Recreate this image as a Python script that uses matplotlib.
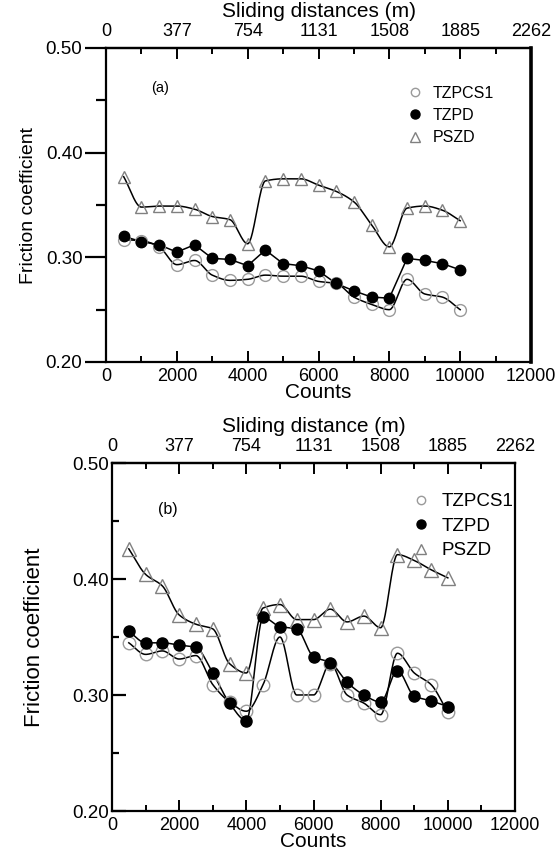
import numpy as np
import matplotlib
matplotlib.use("Agg")
import matplotlib.pyplot as plt
from matplotlib.lines import Line2D
from matplotlib.ticker import MultipleLocator

plt.rcParams['font.family'] = ['Liberation Sans', 'DejaVu Sans']

counts = [500, 1000, 1500, 2000, 2500, 3000, 3500, 4000, 4500, 5000,
          5500, 6000, 6500, 7000, 7500, 8000, 8500, 9000, 9500, 10000]

# Panel (a)
a_tzpcs1 = [0.317, 0.316, 0.310, 0.293, 0.297, 0.283, 0.278, 0.279, 0.283, 0.282,
            0.282, 0.277, 0.275, 0.262, 0.255, 0.250, 0.279, 0.265, 0.262, 0.250]
a_tzpd = [0.320, 0.315, 0.312, 0.305, 0.312, 0.299, 0.298, 0.292, 0.307, 0.294,
          0.292, 0.287, 0.275, 0.268, 0.262, 0.261, 0.299, 0.297, 0.294, 0.288]
a_pszd = [0.377, 0.348, 0.349, 0.349, 0.346, 0.339, 0.336, 0.313, 0.373, 0.375,
          0.375, 0.369, 0.363, 0.353, 0.331, 0.310, 0.347, 0.349, 0.345, 0.335]

# Panel (b)
b_tzpcs1 = [0.345, 0.335, 0.338, 0.331, 0.334, 0.309, 0.294, 0.286, 0.309, 0.350,
            0.300, 0.300, 0.327, 0.300, 0.293, 0.283, 0.336, 0.319, 0.309, 0.285]
b_tzpd = [0.355, 0.345, 0.345, 0.343, 0.341, 0.319, 0.293, 0.278, 0.367, 0.359,
          0.357, 0.333, 0.328, 0.311, 0.300, 0.294, 0.321, 0.299, 0.295, 0.290]
b_pszd = [0.426, 0.404, 0.394, 0.369, 0.361, 0.357, 0.327, 0.319, 0.375, 0.378,
          0.365, 0.365, 0.374, 0.363, 0.368, 0.358, 0.421, 0.416, 0.408, 0.401]

series_names = ["TZPCS1", "TZPD", "PSZD"]
count_ticks = [0, 2000, 4000, 6000, 8000, 10000, 12000]
distance_labels = ["0", "377", "754", "1131", "1508", "1885", "2262"]
y_ticks = [0.20, 0.30, 0.40, 0.50]


def pchip(x, y, n=30):
    x = np.asarray(x, float)
    y = np.asarray(y, float)
    h = np.diff(x)
    dl = np.diff(y) / h
    d = np.zeros_like(y)
    for k in range(1, len(x) - 1):
        if dl[k - 1] * dl[k] <= 0:
            d[k] = 0.0
        else:
            w1 = 2 * h[k] + h[k - 1]
            w2 = h[k] + 2 * h[k - 1]
            d[k] = (w1 + w2) / (w1 / dl[k - 1] + w2 / dl[k])
    d[0] = dl[0]
    d[-1] = dl[-1]
    xs, ys = [], []
    for k in range(len(x) - 1):
        t = np.linspace(0, 1, n, endpoint=(k == len(x) - 2))
        h00 = 2 * t**3 - 3 * t**2 + 1
        h10 = t**3 - 2 * t**2 + t
        h01 = -2 * t**3 + 3 * t**2
        h11 = t**3 - t**2
        xs.append(x[k] + t * h[k])
        ys.append(h00 * y[k] + h10 * h[k] * d[k] + h01 * y[k + 1] + h11 * h[k] * d[k + 1])
    return np.concatenate(xs), np.concatenate(ys)


W, H = 557, 857
fig = plt.figure(figsize=(W / 100, H / 100), dpi=100)

ax_a = fig.add_axes([106 / W, 1 - 362 / H, 425 / W, 314 / H])
ax_b = fig.add_axes([112 / W, 1 - 811 / H, 403 / W, 348 / H])

GRAY = '#9a9a9a'
open_style = dict(marker='o', mfc='none', mec=GRAY, mew=1.0, ls='none')
fill_style = dict(marker='o', mfc='black', mec='black', ls='none')
tri_style = dict(marker='^', mfc='none', mec='#808080', mew=1.0, ls='none')


def draw(ax, s_open, s_fill, s_tri, smooth_fill, msz):
    xo, yo = pchip(counts, s_open)
    ax.plot(xo, yo, color='black', lw=1.1, zorder=2)
    if smooth_fill:
        xf, yf = pchip(counts, s_fill)
    else:
        xf, yf = counts, s_fill
    ax.plot(xf, yf, color='black', lw=1.1, zorder=2)
    xt, yt = pchip(counts, s_tri)
    ax.plot(xt, yt, color='black', lw=1.1, zorder=2)
    ax.plot(counts, s_open, ms=msz + 1, zorder=3, **open_style)
    ax.plot(counts, s_fill, ms=msz, zorder=4, **fill_style)
    ax.plot(counts, s_tri, ms=msz + 1.5, zorder=3, **tri_style)


draw(ax_a, a_tzpcs1, a_tzpd, a_pszd, False, 7.5)
draw(ax_b, b_tzpcs1, b_tzpd, b_pszd, True, 8)


def style(ax, ydir, ylen, top_title, ylabel_size, ylabelpad, top_labelpad):
    ax.set_xlim(0, 12000)
    ax.set_ylim(0.20, 0.50)
    ax.set_xticks(count_ticks)
    ax.xaxis.set_minor_locator(MultipleLocator(1000))
    ax.set_yticks(y_ticks)
    ax.set_yticklabels([f"{v:.2f}" for v in y_ticks])
    ax.yaxis.set_minor_locator(MultipleLocator(0.05))
    ax.tick_params(axis='x', which='major', direction='in', length=8, width=1.4,
                   labelsize=13, pad=4, top=False)
    ax.tick_params(axis='x', which='minor', direction='in', length=4.5, width=1.4, top=False)
    ax.tick_params(axis='y', which='major', direction=ydir, length=ylen, width=1.6,
                   labelsize=13.5, pad=2, right=False)
    ax.tick_params(axis='y', which='minor', direction=ydir, length=ylen * 0.5, width=1.6,
                   right=False)
    for sp in ax.spines.values():
        sp.set_linewidth(1.6)
    ax.set_xlabel("Counts", fontsize=15, labelpad=-1)
    ax.set_ylabel("Friction coefficient", fontsize=ylabel_size, labelpad=ylabelpad)
    sec = ax.secondary_xaxis('top')
    sec.set_xticks(count_ticks)
    sec.set_xticklabels(distance_labels)
    sec.xaxis.set_minor_locator(MultipleLocator(1000))
    sec.tick_params(axis='x', which='major', direction='in', length=8, width=1.4,
                    labelsize=13, pad=6)
    sec.tick_params(axis='x', which='minor', direction='in', length=4.5, width=1.4)
    sec.spines['top'].set_linewidth(1.6)
    sec.set_xlabel(top_title, fontsize=15, labelpad=top_labelpad)
    handles = [Line2D([], [], marker='o', mfc='none', mec=GRAY, ls='none', ms=6),
               Line2D([], [], marker='o', mfc='black', mec='black', ls='none', ms=6.5),
               Line2D([], [], marker='^', mfc='none', mec='#808080', ls='none', ms=7)]
    return handles


h = style(ax_a, 'out', 15, "Sliding distances (m)", 14, 6, 4)
ax_a.spines['right'].set_linewidth(2.6)
ax_a.legend(h, series_names, loc='upper left', bbox_to_anchor=(0.69, 0.90),
            frameon=False, fontsize=11.5, handletextpad=0.5, labelspacing=0.45,
            borderaxespad=0, handlelength=1.2)
ax_a.text(0.127, 0.873, "(a)", transform=ax_a.transAxes, fontsize=10.5,
          ha='center', va='center')

h = style(ax_b, 'in', 10, "Sliding distance (m)", 16, 20, 4)
ax_b.legend(h, series_names, loc='upper left', bbox_to_anchor=(0.72, 0.935),
            frameon=False, fontsize=13.5, handletextpad=0.5, labelspacing=0.4,
            borderaxespad=0, handlelength=1.2)
ax_b.text(0.139, 0.865, "(b)", transform=ax_b.transAxes, fontsize=11.5,
          ha='center', va='center')

fig.savefig("out.png", dpi=100)
